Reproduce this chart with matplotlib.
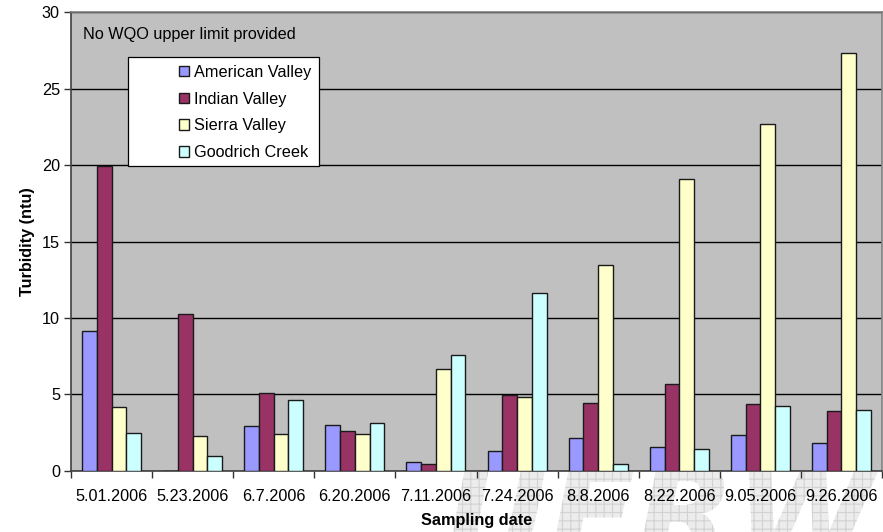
import numpy as np
import matplotlib
matplotlib.use('Agg')
import matplotlib.pyplot as plt
from matplotlib.patches import Rectangle, PathPatch
from matplotlib.textpath import TextPath
from matplotlib.font_manager import FontProperties
from matplotlib.transforms import Affine2D, IdentityTransform

plt.rcParams['font.family'] = ['Liberation Sans', 'DejaVu Sans']
plt.rcParams['hatch.linewidth'] = 0.8

# Turbidity readings per sampling date
dates = ['5.01.2006', '5.23.2006', '6.7.2006', '6.20.2006', '7.11.2006',
         '7.24.2006', '8.8.2006', '8.22.2006', '9.05.2006', '9.26.2006']
american_valley = [9.17, 0, 2.91, 3.01, 0.55, 1.31, 2.12, 1.57, 2.34, 1.83]
indian_valley = [19.95, 10.26, 5.11, 2.58, 0.46, 4.94, 4.45, 5.70, 4.35, 3.89]
sierra_valley = [4.19, 2.29, 2.40, 2.38, 6.68, 4.83, 13.43, 19.10, 22.70, 27.31]
goodrich_creek = [2.49, 0.96, 4.61, 3.12, 7.56, 11.62, 0.44, 1.40, 4.22, 3.97]

series = [
    ('American Valley', american_valley, '#9999FF'),
    ('Indian Valley', indian_valley, '#993366'),
    ('Sierra Valley', sierra_valley, '#FFFFCC'),
    ('Goodrich Creek', goodrich_creek, '#CCFFFF'),
]

FS = 11.7
W, H = 883, 532
fig = plt.figure(figsize=(W / 100, H / 100), dpi=100)

# faint UFRW watermark behind the chart
fp = FontProperties(family='DejaVu Sans', weight='bold', style='oblique')
tp = TextPath((0, 0), 'UFRW', size=128, prop=fp)
wm = PathPatch(tp, transform=Affine2D().translate(445, -25) + IdentityTransform(),
               facecolor='#ececec', edgecolor='#d2d2d2', linewidth=0,
               hatch='++', zorder=-5)
fig.add_artist(wm)

left, right, top, bottom = 71, 882, 12.3, 470.7
ax = fig.add_axes([left / W, 1 - bottom / H, (right - left) / W, (bottom - top) / H])
ax.set_facecolor('#C0C0C0')

x = np.arange(len(dates))
bw = 1 / 5.5
for i, (name, vals, color) in enumerate(series):
    ax.bar(x + (i - 1.5) * bw, vals, bw, color=color, edgecolor='#1a1a1a',
           linewidth=1.0, label=name, zorder=3)

ax.set_xlim(-0.5, len(dates) - 0.5)
ax.set_ylim(0, 30)
ax.set_yticks(range(0, 31, 5))
ax.yaxis.grid(True, color='black', linewidth=1.0, zorder=1)
ax.set_axisbelow(True)

ax.set_xticks(x)
ax.set_xticklabels(dates, fontsize=FS)
ax.set_xticks(np.arange(-0.5, len(dates)), minor=True)
ax.tick_params(axis='x', which='major', length=0, pad=13)
ax.tick_params(axis='x', which='minor', length=5, width=1, direction='out', color='#333333')
ax.tick_params(axis='y', length=5, width=1, direction='out', labelsize=FS, pad=3, color='#333333')

for side in ['top', 'right']:
    ax.spines[side].set_color('#808080')
    ax.spines[side].set_linewidth(1.2)
for side in ['left', 'bottom']:
    ax.spines[side].set_color('#404040')
    ax.spines[side].set_linewidth(1.2)

ax.set_xlabel('Sampling date', fontsize=FS, fontweight='bold', labelpad=7)
ax.set_ylabel('Turbidity (ntu)', fontsize=FS, fontweight='bold', labelpad=5)

ax.text(12.3 / (right - left), 1 - (34.3 - top) / (bottom - top),
        'No WQO upper limit provided', transform=ax.transAxes,
        fontsize=FS, va='center', ha='left')

# white legend box with the key inside
fig.add_artist(Rectangle((128.3 / W, 1 - 166 / H), (319 - 128.3) / W, (166 - 57.3) / H,
                         transform=fig.transFigure, facecolor='white',
                         edgecolor='black', linewidth=0.9, zorder=4))
leg = fig.legend(loc='upper left', bbox_to_anchor=(174 / W, 1 - 60 / H),
                 bbox_transform=fig.transFigure, frameon=False, fontsize=FS,
                 handlelength=0.62, handleheight=0.62, handletextpad=0.3,
                 labelspacing=0.72, borderpad=0.3, borderaxespad=0)
leg.set_zorder(5)

fig.savefig('out.png', dpi=100)
